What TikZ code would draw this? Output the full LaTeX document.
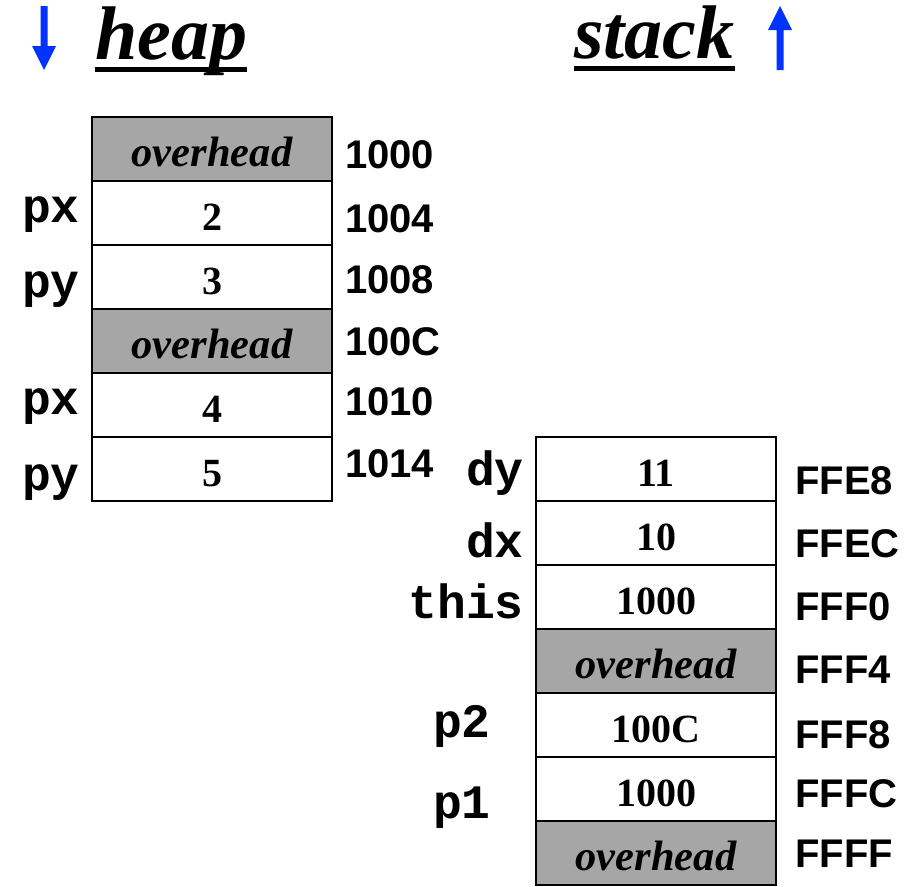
\documentclass[tikz,border=0pt]{standalone}
\usepackage{fontspec}
\newfontfamily\cellfont{Liberation Serif}
\newfontfamily\addrfont{Liberation Sans}
\newfontfamily\varfont{Liberation Mono}
\definecolor{growblue}{RGB}{0,51,255}
\definecolor{padgray}{RGB}{166,166,166}

\tikzset{
  cell/.style={draw, line width=2pt, minimum width=240pt, minimum height=64pt,
    inner sep=0pt, text height=34pt, text depth=0pt,
    font=\cellfont\bfseries\fontsize{40}{42}\selectfont},
  ovh/.style={cell, fill=padgray, font=\cellfont\bfseries\itshape\fontsize{42.5}{44}\selectfont},
  addr/.style={anchor=base west, inner sep=0pt, font=\addrfont\bfseries\fontsize{40}{42}\selectfont},
  var/.style={anchor=base east, inner sep=0pt, font=\varfont\bfseries\fontsize{48}{50}\selectfont},
  title/.style={anchor=base west, inner sep=0pt, font=\cellfont\bfseries\itshape\fontsize{76}{80}\selectfont},
  uline/.style={line width=5pt},
  growarrow/.style={fill=growblue},
}

\begin{document}
\begin{tikzpicture}[x=1pt, y=-1pt]
  \useasboundingbox (0,0) rectangle (910,886);

  % titles with growth direction
  \node[title] (heapT) at (95,59) {heap};
  \node[title] (stackT) at (574,58) {stack};
  \draw[uline] ([yshift=-10.5pt]heapT.base west) -- ([yshift=-10.5pt]heapT.base east);
  \draw[uline] ([yshift=-10.5pt]stackT.base west) -- ([yshift=-10.5pt]stackT.base east);
  \fill[growarrow] (40.5,6) -- (47.5,6) -- (47.5,46) -- (56,46) -- (44,70) -- (32,46) -- (40.5,46) -- cycle;
  \fill[growarrow] (776.5,70) -- (783.5,70) -- (783.5,30) -- (792,30) -- (780,6) -- (768,30) -- (776.5,30) -- cycle;

  % heap cells
  \node[ovh]  (h0) at (212,149) {overhead};
  \node[cell] (h1) at (212,213) {2};
  \node[cell] (h2) at (212,277) {3};
  \node[ovh]  (h3) at (212,341) {overhead};
  \node[cell] (h4) at (212,405) {4};
  \node[cell] (h5) at (212,469) {5};

  % heap addresses
  \node[addr] (ha0) at (345,168) {1000};
  \node[addr] (ha1) at (345,232) {1004};
  \node[addr] (ha2) at (345,293) {1008};
  \node[addr] (ha3) at (345,355) {100C};
  \node[addr] (ha4) at (345,415) {1010};
  \node[addr] (ha5) at (345,477) {1014};

  % heap field names
  \node[var] (hv1) at (80,222) {px};
  \node[var] (hv2) at (80,297) {py};
  \node[var] (hv4) at (80,414) {px};
  \node[var] (hv5) at (80,490) {py};

  % stack cells
  \node[cell] (s0) at (656,469) {11};
  \node[cell] (s1) at (656,533) {10};
  \node[cell] (s2) at (656,597) {1000};
  \node[ovh]  (s3) at (656,661) {overhead};
  \node[cell] (s4) at (656,725) {100C};
  \node[cell] (s5) at (656,789) {1000};
  \node[ovh]  (s6) at (656,853) {overhead};

  % stack addresses
  \node[addr] (sa0) at (795,494) {FFE8};
  \node[addr] (sa1) at (795,557) {FFEC};
  \node[addr] (sa2) at (795,620) {FFF0};
  \node[addr] (sa3) at (795,683) {FFF4};
  \node[addr] (sa4) at (795,748) {FFF8};
  \node[addr] (sa5) at (795,807) {FFFC};
  \node[addr] (sa6) at (795,867) {FFFF};

  % stack variable names
  \node[var] (sv0) at (524,485) {dy};
  \node[var] (sv1) at (524,557) {dx};
  \node[var] (sv2) at (524,618) {this};
  \node[var] (sv4) at (491,737) {p2};
  \node[var] (sv5) at (491,818) {p1};
\end{tikzpicture}
\end{document}
